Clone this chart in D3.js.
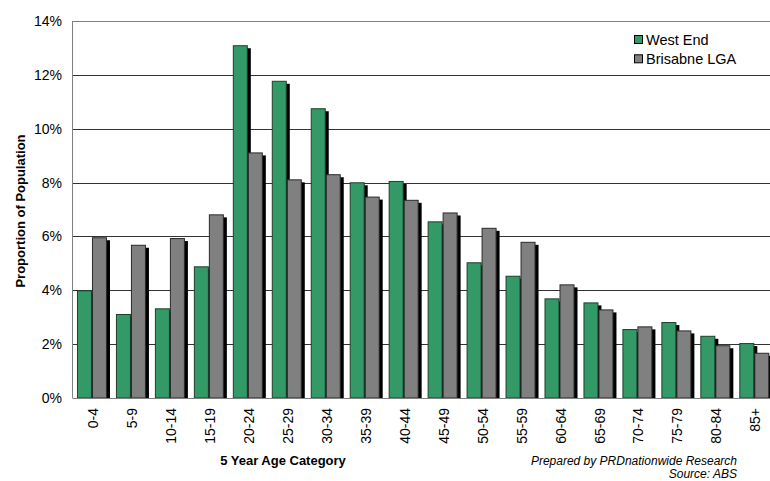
<!DOCTYPE html>
<html>
<head>
<meta charset="utf-8">
<script src="https://cdn.jsdelivr.net/npm/d3@7/dist/d3.min.js"></script>
<style>
  html, body { margin: 0; padding: 0; background: #fff; }
  svg { display: block; font-family: "Liberation Sans", Arial, sans-serif; }
</style>
</head>
<body>
<svg id="chart" width="770" height="481"></svg>
<script>
const categories = ["0-4","5-9","10-14","15-19","20-24","25-29","30-34","35-39","40-44","45-49","50-54","55-59","60-64","65-69","70-74","75-79","80-84","85+"];
const westEnd  = [4.0, 3.12, 3.33, 4.89, 13.1, 11.78, 10.76, 8.01, 8.06, 6.56, 5.04, 4.54, 3.70, 3.55, 2.56, 2.82, 2.31, 2.04];
const brisbane = [5.97, 5.69, 5.94, 6.82, 9.12, 8.12, 8.31, 7.48, 7.36, 6.89, 6.32, 5.80, 4.22, 3.29, 2.66, 2.51, 1.96, 1.68];
const seriesNames = ["West End", "Brisabne LGA"];
const seriesColors = ["#339966", "#808080"];
const yTicks = [0, 2, 4, 6, 8, 10, 12, 14];

(function () {
const svg = d3.select("#chart");
const pLeft = 72.5, pTop = 21, pBottom = 398;
const step = 38.96;
const pRight = pLeft + step * categories.length;

const x = d3.scaleBand().domain(categories).range([pLeft, pRight]).paddingInner(0.23).paddingOuter(0.115);
const xs = d3.scaleBand().domain([0, 1]).range([0, x.bandwidth()]);
const y = d3.scaleLinear().domain([0, 14]).range([pBottom, pTop]);

// gridlines
svg.append("g").selectAll("line").data(yTicks.filter(t => t > 0 && t < 14)).join("line")
  .attr("x1", pLeft).attr("x2", pRight)
  .attr("y1", d => Math.round(y(d)) + 0.5).attr("y2", d => Math.round(y(d)) + 0.5)
  .attr("stroke", "#333").attr("stroke-width", 1);

// frame top & left
svg.append("line").attr("x1", pLeft).attr("x2", pRight).attr("y1", pTop + 0.5).attr("y2", pTop + 0.5).attr("stroke", "#808080");
svg.append("line").attr("x1", pLeft).attr("x2", pLeft).attr("y1", pTop).attr("y2", pBottom).attr("stroke", "#808080");

// y tick labels
svg.append("g").selectAll("text").data(yTicks).join("text")
  .attr("x", 62).attr("y", d => y(d)).attr("dy", "0.36em")
  .attr("text-anchor", "end").attr("font-size", "14px").attr("fill", "#000")
  .text(d => d + "%");

// bars
const data = [westEnd, brisbane];
const g = svg.append("g");
categories.forEach((c, i) => {
  data.forEach((arr, s) => {
    const bx = x(c) + xs(s);
    const by = y(arr[i]);
    const h = pBottom - by;
    g.append("rect").attr("x", bx + 3).attr("y", by + 3).attr("width", xs.bandwidth()).attr("height", Math.max(0, h - 3))
      .attr("fill", "#000");
    g.append("rect").attr("x", bx + 0.5).attr("y", by + 0.5).attr("width", xs.bandwidth() - 1).attr("height", h - 0.5)
      .attr("fill", seriesColors[s]).attr("stroke", s === 0 ? "#1d3f2c" : "#2a2a2a").attr("stroke-width", 1);
  });
});

// bottom axis line
svg.append("line").attr("x1", pLeft).attr("x2", pRight).attr("y1", pBottom + 0.5).attr("y2", pBottom + 0.5).attr("stroke", "#808080");

// x tick labels
svg.append("g").selectAll("text").data(categories).join("text")
  .attr("transform", d => `translate(${x(d) + x.bandwidth() / 2 + 1},408) rotate(-90)`)
  .attr("dy", "0.36em").attr("text-anchor", "end").attr("font-size", "14px").attr("fill", "#000")
  .text(d => d);

// axis titles
svg.append("text").attr("transform", "translate(20,211) rotate(-90)")
  .attr("text-anchor", "middle").attr("dy", "0.36em").attr("font-size", "13px").attr("font-weight", "bold")
  .text("Proportion of Population");
svg.append("text").attr("x", 283).attr("y", 465)
  .attr("text-anchor", "middle").attr("font-size", "13px").attr("font-weight", "bold")
  .text("5 Year Age Category");

// source notes
svg.append("text").attr("x", 737).attr("y", 465).attr("text-anchor", "end")
  .attr("font-size", "12px").attr("font-style", "italic").text("Prepared by PRDnationwide Research");
svg.append("text").attr("x", 737).attr("y", 478).attr("text-anchor", "end")
  .attr("font-size", "12px").attr("font-style", "italic").text("Source: ABS");

// legend
const lg = svg.append("g");
seriesNames.forEach((n, i) => {
  lg.append("rect").attr("x", 634.5).attr("y", 35.5 + i * 19.3).attr("width", 8).attr("height", 8)
    .attr("fill", seriesColors[i]).attr("stroke", "#000");
  lg.append("text").attr("x", 646).attr("y", 44.5 + i * 19.3).attr("font-size", "14.5px").text(n);
});
})();
</script>
</body>
</html>
